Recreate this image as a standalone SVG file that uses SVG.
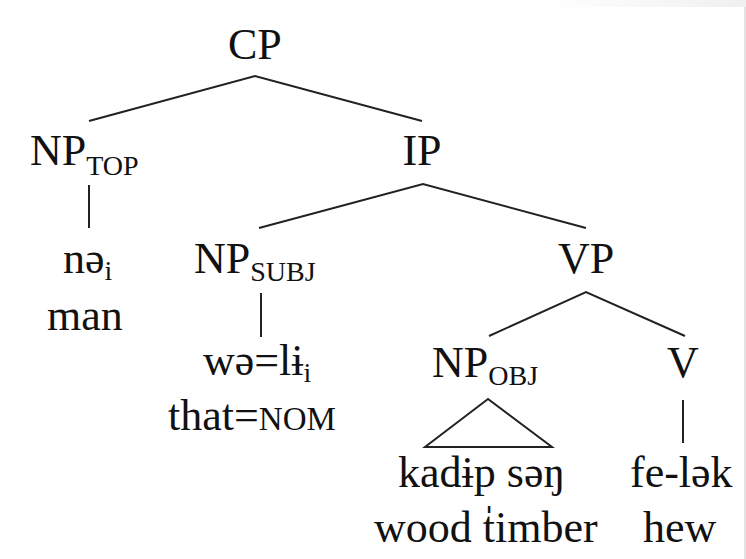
<svg xmlns="http://www.w3.org/2000/svg" width="746" height="559" viewBox="0 0 746 559">
  <defs>
    <linearGradient id="topband" x1="0" y1="0" x2="1" y2="0">
      <stop offset="0" stop-color="#ffffff"/>
      <stop offset="1" stop-color="#f0f0f0"/>
    </linearGradient>
    <style>
      .t { font-family: "Liberation Serif", "Times New Roman", serif; font-size: 44px; fill: #111111; }
      .sub { font-size: 28px; }
      .sc { font-size: 33px; }
      .edge { stroke: #222222; stroke-width: 2; fill: none; stroke-linecap: butt; }
    </style>
  </defs>
  <rect x="0" y="0" width="746" height="559" fill="#ffffff"/>
  <rect x="540" y="0" width="206" height="7" fill="url(#topband)"/>
  <line x1="745" y1="7" x2="745" y2="559" stroke="#c8c8c8" stroke-width="1"/>

  <g id="connectors">
    <polyline class="edge" points="89,121 255,76 422,121"/>
    <polyline class="edge" points="259,228 423,184 586,228"/>
    <line class="edge" x1="89" y1="185" x2="89" y2="228"/>
    <line class="edge" x1="261" y1="293" x2="261" y2="337"/>
    <polyline class="edge" points="489,336 586,292 685,336"/>
    <polygon class="edge" points="488,399 425,447 552,447"/>
    <line class="edge" x1="683" y1="400" x2="683" y2="443"/>
  </g>

  <g id="node-CP">
    <text class="t" x="228" y="59">CP</text>
  </g>
  <g id="node-NP-TOP">
    <text class="t" x="30" y="165">NP<tspan class="sub" dy="10">TOP</tspan></text>
  </g>
  <g id="node-IP">
    <text class="t" x="422" y="165" text-anchor="middle">IP</text>
  </g>
  <g id="node-ne">
    <text class="t" x="63" y="273">nə<tspan class="sub" dy="7">i</tspan></text>
    <text class="t" x="47" y="330">man</text>
  </g>
  <g id="node-NP-SUBJ">
    <text class="t" x="194" y="273">NP<tspan class="sub" dy="8">SUBJ</tspan></text>
  </g>
  <g id="node-VP">
    <text class="t" x="558" y="273">VP</text>
  </g>
  <g id="node-weli">
    <text class="t" x="203" y="375">wə=lɨ<tspan class="sub" dy="7">i</tspan></text>
    <text class="t" x="168" y="430">that=<tspan class="sc">NOM</tspan></text>
  </g>
  <g id="node-NP-OBJ">
    <text class="t" x="432" y="377">NP<tspan class="sub" dy="8">OBJ</tspan></text>
  </g>
  <g id="node-V">
    <text class="t" x="683" y="377" text-anchor="middle">V</text>
  </g>
  <g id="node-kadip">
    <text class="t" x="398" y="487">kadɨp səŋ</text>
    <text class="t" x="489" y="503" text-anchor="middle">ˌ</text>
    <text class="t" x="374" y="542">wood timber</text>
  </g>
  <g id="node-felek">
    <text class="t" x="630" y="487">fe-lək</text>
    <text class="t" x="643" y="542">hew</text>
  </g>
</svg>
